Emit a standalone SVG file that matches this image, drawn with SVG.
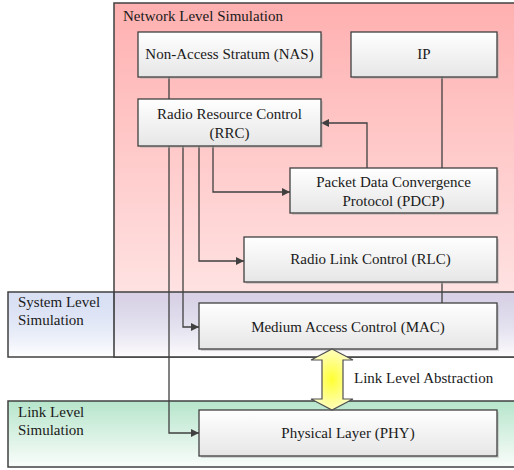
<svg xmlns="http://www.w3.org/2000/svg" width="514" height="470" viewBox="0 0 514 470">
<defs>
<linearGradient id="gNet" x1="0" y1="0" x2="0" y2="1">
<stop offset="0" stop-color="#ffb0b0"/>
<stop offset="1" stop-color="#ffeded"/>
</linearGradient>
<linearGradient id="gSys" x1="0" y1="0" x2="0" y2="1">
<stop offset="0" stop-color="#a9b9e6" stop-opacity="0.45"/>
<stop offset="1" stop-color="#ffffff" stop-opacity="0.85"/>
</linearGradient>
<linearGradient id="gLink" x1="0" y1="0" x2="0" y2="1">
<stop offset="0" stop-color="#b6e5cb"/>
<stop offset="1" stop-color="#fafdfb"/>
</linearGradient>
<linearGradient id="gNode" x1="0" y1="0" x2="0" y2="1">
<stop offset="0" stop-color="#ffffff"/>
<stop offset="1" stop-color="#e6e6e6"/>
</linearGradient>
<radialGradient id="gArrow" cx="0.5" cy="0.5" r="0.6">
<stop offset="0" stop-color="#ffff33"/>
<stop offset="1" stop-color="#ffffd9"/>
</radialGradient>
<marker id="ah" viewBox="0 0 10 10" refX="10" refY="5" markerWidth="8" markerHeight="8" markerUnits="userSpaceOnUse" orient="auto">
<path d="M0,0 L10,5 L0,10 z" fill="#404040"/>
</marker>
</defs>
<style>
.zone{stroke:#404040;stroke-width:1.5}
.node rect.box{fill:url(#gNode);stroke:#404040;stroke-width:1.3}
.node rect.sh{fill:#b0b0b0;opacity:0.5}
text{font-family:"Liberation Serif","Times New Roman",serif;font-size:15px;fill:#1a1a1a}
.c{text-anchor:middle}
.conn path{fill:none;stroke:#404040;stroke-width:1.3}
</style>

<g id="network-level">
<rect class="zone" x="114" y="3" width="410" height="354" fill="url(#gNet)"/>
<text x="123" y="21">Network Level Simulation</text>
</g>
<g id="system-level">
<rect class="zone" x="8" y="292" width="516" height="65" fill="url(#gSys)"/>
<line x1="114" y1="292" x2="114" y2="357" stroke="#404040" stroke-width="1.5"/>
<text x="18" y="307">System Level</text>
<text x="18" y="325">Simulation</text>
</g>
<g id="link-level">
<rect class="zone" x="8" y="401" width="516" height="66" fill="url(#gLink)"/>
<text x="18" y="417">Link Level</text>
<text x="18" y="435">Simulation</text>
</g>

<g class="conn" id="connectors">
<path d="M169,77 V99"/>
<path d="M442,77 V168"/>
<path d="M442,282 V303"/>
<path d="M367,168 V123 H321" marker-end="url(#ah)"/>
<path d="M213,146 V192 H290" marker-end="url(#ah)"/>
<path d="M199,146 V261 H244" marker-end="url(#ah)"/>
<path d="M183,146 V327 H199" marker-end="url(#ah)"/>
<path d="M169,146 V433 H199" marker-end="url(#ah)"/>
</g>

<g class="node" id="nas">
<rect class="sh" x="140" y="34" width="183" height="45"/>
<rect class="box" x="138" y="32" width="183" height="45"/>
<text class="c" x="229.5" y="59">Non-Access Stratum (NAS)</text>
</g>
<g class="node" id="ip">
<rect class="sh" x="353" y="34" width="146" height="45"/>
<rect class="box" x="351" y="32" width="146" height="45"/>
<text class="c" x="424" y="59">IP</text>
</g>
<g class="node" id="rrc">
<rect class="sh" x="140" y="101" width="183" height="47"/>
<rect class="box" x="138" y="99" width="183" height="47"/>
<text class="c" x="229.5" y="119">Radio Resource Control</text>
<text class="c" x="229.5" y="138">(RRC)</text>
</g>
<g class="node" id="pdcp">
<rect class="sh" x="292" y="170" width="207" height="45"/>
<rect class="box" x="290" y="168" width="207" height="45"/>
<text class="c" x="393.5" y="187">Packet Data Convergence</text>
<text class="c" x="393.5" y="206">Protocol (PDCP)</text>
</g>
<g class="node" id="rlc">
<rect class="sh" x="246" y="239" width="253" height="45"/>
<rect class="box" x="244" y="237" width="253" height="45"/>
<text class="c" x="370.5" y="264">Radio Link Control (RLC)</text>
</g>
<g class="node" id="mac">
<rect class="sh" x="201" y="305" width="298" height="46"/>
<rect class="box" x="199" y="303" width="298" height="46"/>
<text class="c" x="348" y="332">Medium Access Control (MAC)</text>
</g>
<g class="node" id="phy">
<rect class="sh" x="201" y="412" width="298" height="46"/>
<rect class="box" x="199" y="410" width="298" height="46"/>
<text class="c" x="348" y="438">Physical Layer (PHY)</text>
</g>

<g id="link-abstraction">
<path d="M332,349 L353,360 H343 V399 H353 L332,410 L311,399 H322 V360 H311 Z" fill="url(#gArrow)" stroke="#505050" stroke-width="1.2" stroke-linejoin="miter"/>
<text x="354" y="383">Link Level Abstraction</text>
</g>
</svg>
